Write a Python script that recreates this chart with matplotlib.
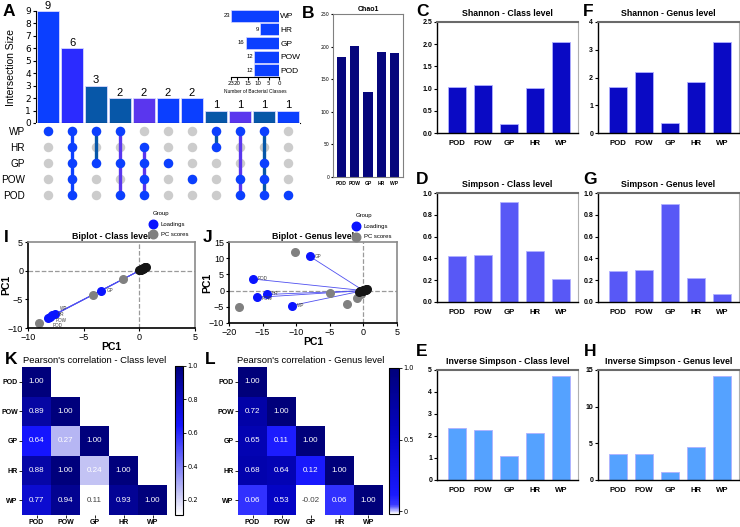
import numpy as np
import matplotlib.pyplot as plt
from matplotlib.colors import LinearSegmentedColormap

W, H = 740, 527

# ---- data ----
set_names = ["WP", "HR", "GP", "POW", "POD"]
set_sizes = [23, 9, 16, 12, 12]
inter_sizes = [9, 6, 3, 2, 2, 2, 2, 1, 1, 1, 1]
inter_sets = [["WP"], ["WP", "HR", "GP", "POW", "POD"], ["WP", "GP"], ["WP", "GP", "POD"],
              ["HR", "GP", "POW", "POD"], ["GP"], ["POW"], ["WP", "HR"],
              ["WP", "POW", "POD"], ["WP", "GP", "POW", "POD"], ["POD"]]

groups = ["POD", "POW", "GP", "HR", "WP"]
chao1 = [184, 201, 130, 192, 190]
shannon_class = [1.03, 1.09, 0.21, 1.01, 2.06]
shannon_genus = [1.67, 2.21, 0.35, 1.85, 3.27]
simpson_class = [0.42, 0.435, 0.92, 0.47, 0.21]
simpson_genus = [0.28, 0.29, 0.90, 0.22, 0.07]
invsimpson_class = [2.38, 2.29, 1.08, 2.12, 4.74]
invsimpson_genus = [3.6, 3.5, 1.1, 4.5, 14.2]

# biplot class level
load_class_x = [-8.2, -8.0, -3.4, -7.8, -7.6]
load_class_y = [-8.3, -8.1, -3.5, -7.8, -7.6]
score_class_x = [-9.0, -4.2, -1.5]
score_class_y = [-9.1, -4.2, -1.4]
# biplot genus level
load_genus_x = [-16.5, -15.9, -8.0, -14.4, -10.6]
load_genus_y = [3.6, -2.1, 10.6, -1.2, -4.6]
score_genus_x = [-18.5, -10.2, -5.0, -2.5, -1.0, -0.3]
score_genus_y = [-5.2, 11.8, -0.6, -4.0, -2.2, -1.2]

corr_class = [[1.00, 0, 0, 0, 0],
              [0.89, 1.00, 0, 0, 0],
              [0.64, 0.27, 1.00, 0, 0],
              [0.88, 1.00, 0.24, 1.00, 0],
              [0.77, 0.94, 0.11, 0.93, 1.00]]
corr_genus = [[1.00, 0, 0, 0, 0],
              [0.72, 1.00, 0, 0, 0],
              [0.65, 0.11, 1.00, 0, 0],
              [0.68, 0.64, 0.12, 1.00, 0],
              [0.06, 0.53, -0.02, 0.06, 1.00]]

ARIAL = ['Liberation Sans', 'DejaVu Sans']


def px(x0, y0, x1, y1):
    return [x0 / W, 1 - y1 / H, (x1 - x0) / W, (y1 - y0) / H]


def letter(x, y, s):
    fig.text(x / W, 1 - y / H, s, fontsize=12.5, fontweight='bold', family=ARIAL, va='center', ha='left')


fig = plt.figure(figsize=(7.4, 5.27), dpi=100)

# ---------------- A : upset ----------------
c_blue = "#0b3fff"
c_all = "#2b2bff"
c_dark = "#0757a8"
c_purp = "#5a36ee"
bar_cols = [c_blue, c_all, c_dark, c_dark, c_purp, c_blue, c_blue, c_dark, c_purp, c_dark, c_blue]
line_cols = [c_blue, c_blue, c_dark, c_purp, c_purp, c_blue, c_blue, c_dark, c_purp, c_dark, c_blue]

axA = fig.add_axes(px(36, 11, 300, 123))
xs = np.arange(len(inter_sizes))
axA.bar(xs, inter_sizes, width=0.92, color=bar_cols, edgecolor='#d8d8ff', lw=0.6)
for x, v in zip(xs, inter_sizes):
    axA.text(x, v + 0.02, str(v), ha='center', va='bottom', fontsize=8, family=ARIAL, clip_on=False)
axA.set_xlim(-0.5, len(inter_sizes) - 0.5)
axA.set_ylim(0, 9)
axA.set_yticks(range(10))
axA.tick_params(axis='y', labelsize=6.5, length=2.5, pad=1)
axA.set_xticks([])
for s in ['top', 'right']:
    axA.spines[s].set_visible(False)
axA.set_ylabel("Intersection Size", fontsize=7.5, family=ARIAL)
axA.yaxis.set_label_coords(-0.075, 0.5)

axM = fig.add_axes(px(36, 123, 300, 203))
for x, members in enumerate(inter_sets):
    rows = [set_names.index(m) for m in members]
    axM.scatter([x] * 5, range(5), s=34, color='#cccccc', zorder=1)
    if len(rows) > 1:
        axM.plot([x, x], [min(rows), max(rows)], color=line_cols[x], lw=2.4, zorder=2)
    axM.scatter([x] * len(rows), rows, s=34, color=c_blue, zorder=3)
axM.set_xlim(-0.5, len(inter_sizes) - 0.5)
axM.set_ylim(4.5, -0.5)
axM.set_yticks(range(5))
axM.set_yticklabels(set_names, fontsize=7.2, family=ARIAL)
axM.tick_params(length=0, pad=8)
axM.set_xticks([])
for s in axM.spines.values():
    s.set_visible(False)

# inset set sizes
axS = fig.add_axes(px(231, 9, 279, 77))
axS.barh(range(5), set_sizes, height=0.88, color=c_blue, edgecolor='#d8d8ff', lw=0.5)
for y, v in enumerate(set_sizes):
    axS.text(v + 0.6, y, str(v), ha='right', va='center', fontsize=4.2, family=ARIAL)
axS.set_xlim(23, 0)
axS.set_ylim(4.5, -0.5)
axS.set_xticks([23, 20, 15, 10, 5, 0])
axS.tick_params(axis='x', labelsize=4, length=2, pad=1)
axS.yaxis.tick_right()
axS.set_yticks(range(5))
axS.set_yticklabels(set_names, fontsize=6, family=ARIAL)
axS.tick_params(axis='y', length=0, pad=1)
for s in ['top', 'left', 'right']:
    axS.spines[s].set_visible(False)
axS.set_xlabel("Number of Bacterial Classes", fontsize=3.5, family=ARIAL, labelpad=2)
letter(3, 12, "A")

# ---------------- B : Chao1 ----------------
axB = fig.add_axes(px(333, 14, 403, 177))
axB.bar(np.arange(5), chao1, width=0.7, color='#06067c')
axB.set_xlim(-0.63, 4.64)
axB.set_ylim(0, 250)
axB.set_yticks(range(0, 251, 50))
axB.set_xticks(np.arange(5))
axB.set_xticklabels(groups, fontsize=3.6, fontweight='bold', family=ARIAL)
axB.tick_params(axis='y', labelsize=3.3, length=1.5, pad=1)
axB.tick_params(axis='x', length=0, pad=3)
for s in axB.spines.values():
    s.set_color('#808080')
    s.set_linewidth(0.8)
axB.set_title("Chao1", fontsize=5, fontweight='bold', family=ARIAL, pad=2)
letter(302, 13, "B")


# ---------------- C-H : alpha diversity ----------------
def alpha_panel(box, title, vals, ylim, yticks, color, ticklabels=None):
    ax = fig.add_axes(px(*box))
    ax.bar(np.arange(5), vals, width=0.68, color=color, edgecolor='#b0b0ff', lw=0.6)
    ax.set_xlim(-0.77, 4.65)
    ax.set_ylim(*ylim)
    ax.set_yticks(yticks)
    if ticklabels is not None:
        ax.set_yticklabels(ticklabels)
    ax.set_xticks(np.arange(5))
    ax.set_xticklabels(groups, fontsize=5.6, fontweight='bold', family=ARIAL)
    ax.tick_params(axis='x', length=0, pad=5)
    ax.tick_params(axis='y', length=2.5, pad=1, labelsize=5)
    for lab in ax.get_yticklabels():
        lab.set_fontweight('bold')
        lab.set_family(ARIAL)
    ax.spines['top'].set_color('#6a6a6a')
    ax.spines['top'].set_linewidth(1.5)
    ax.spines['right'].set_color('#b0b0b0')
    ax.spines['left'].set_linewidth(1.0)
    ax.spines['bottom'].set_linewidth(1.0)
    ax.set_title(title, fontsize=6.3, fontweight='bold', family=ARIAL, pad=4)
    return ax


c_dk = "#0a0ac4"
c_md = "#5858f6"
c_lt = "#55a2ff"
alpha_panel((437, 22, 578, 133), "Shannon - Class level", shannon_class, (0, 2.5),
            [0, 0.5, 1, 1.5, 2, 2.5], c_dk, ["0.0", "0.5", "1.0", "1.5", "2.0", "2.5"])
alpha_panel((598, 22, 739, 133), "Shannon - Genus level", shannon_genus, (0, 4),
            [0, 1, 2, 3, 4], c_dk)
alpha_panel((437, 193, 578, 302), "Simpson - Class level", simpson_class, (0, 1),
            [0, 0.2, 0.4, 0.6, 0.8, 1.0], c_md, ["0.0", "0.2", "0.4", "0.6", "0.8", "1.0"])
alpha_panel((598, 193, 739, 302), "Simpson - Genus level", simpson_genus, (0, 1),
            [0, 0.2, 0.4, 0.6, 0.8, 1.0], c_md, ["0.0", "0.2", "0.4", "0.6", "0.8", "1.0"])
alpha_panel((437, 370, 578, 480), "Inverse Simpson - Class level", invsimpson_class, (0, 5),
            [0, 1, 2, 3, 4, 5], c_lt)
alpha_panel((598, 370, 739, 480), "Inverse Simpson - Genus level", invsimpson_genus, (0, 15),
            [0, 5, 10, 15], c_lt)
letter(416, 12, "C")
letter(583, 12, "F")
letter(416, 180, "D")
letter(583, 180, "G")
letter(416, 352, "E")
letter(584, 352, "H")


# ---------------- I, J : biplots ----------------
def biplot(box, title, lx, ly, sx, sy, lim_x, lim_y, ticks_x, ticks_y, cluster, leg_xy, lab_dy):
    ax = fig.add_axes(px(*box))
    ax.axhline(0, color='#9a9a9a', ls='--', lw=0.9, zorder=0)
    ax.axvline(0, color='#9a9a9a', ls='--', lw=0.9, zorder=0)
    for x, y in zip(lx, ly):
        ax.plot([0, x], [0, y], color='#5050f0', lw=0.6, zorder=1)
    ax.scatter(sx, sy, s=30, color='#808080', zorder=2)
    ax.scatter(cluster[0], cluster[1], s=30, color='#151515', zorder=3)
    ax.scatter(lx, ly, s=30, color='#0a14ff', zorder=4, label='Loadings')
    for x, y, n, dy in zip(lx, ly, groups, lab_dy):
        ax.text(x + 0.03 * (lim_x[1] - lim_x[0]), y + dy, n, fontsize=3.3, color='#404040',
                va='center', family=ARIAL, zorder=5)
    ax.set_xlim(*lim_x)
    ax.set_ylim(*lim_y)
    ax.set_xticks(ticks_x)
    ax.set_yticks(ticks_y)
    ax.tick_params(labelsize=6.5, length=2.5, pad=1)
    for lab in ax.get_xticklabels() + ax.get_yticklabels():
        lab.set_family(ARIAL)
    for s in ax.spines.values():
        s.set_color('#8a8a8a')
        s.set_linewidth(1.2)
    ax.spines['left'].set_color('black')
    ax.spines['bottom'].set_color('black')
    ax.set_xlabel("PC1", fontsize=7.5, fontweight='bold', family=ARIAL, labelpad=0)
    ax.set_ylabel("PC1", fontsize=7.5, fontweight='bold', family=ARIAL)
    ax.yaxis.set_label_coords(-0.1, 0.5)
    ax.set_title(title, fontsize=6.3, fontweight='bold', family=ARIAL, pad=2)
    gx, gy = leg_xy
    fig.text(gx / W, 1 - gy / H, "Group", fontsize=4.3, family=ARIAL, ha='left', va='center')
    lg = fig.add_axes(px(gx - 6, gy + 5, gx + 40, gy + 27))
    lg.set_axis_off()
    lg.set_xlim(0, 1)
    lg.set_ylim(1, 0)
    lg.scatter([0.12], [0.28], s=38, color='#0a14ff', clip_on=False)
    lg.scatter([0.12], [0.75], s=38, color='#808080', clip_on=False)
    lg.text(0.3, 0.28, "Loadings", fontsize=4.3, family=ARIAL, va='center')
    lg.text(0.3, 0.75, "PC scores", fontsize=4.3, family=ARIAL, va='center')
    return ax


cl_c = (np.linspace(0.0, 0.6, 14), np.linspace(0.0, 0.6, 14) + 0.05)
biplot((28, 242, 195, 328), "Biplot - Class level", load_class_x, load_class_y,
       score_class_x, score_class_y, (-10, 5), (-10, 5), [-10, -5, 0, 5], [-10, -5, 0, 5],
       cl_c, (153, 213), [-1.3, -0.6, 0, 0.2, 1.0])
cl_g = (np.linspace(-0.6, 0.5, 14), np.linspace(-0.3, 0.4, 14))
biplot((229, 242, 397, 323), "Biplot - Genus level", load_genus_x, load_genus_y,
       score_genus_x, score_genus_y, (-20, 5), (-10, 15), [-20, -15, -10, -5, 0, 5],
       [-10, -5, 0, 5, 10, 15], cl_g, (356, 215), [0, -0.3, 0, 0.4, 0])
letter(4, 238, "I")
letter(203, 238, "J")


# ---------------- K, L : correlation heatmaps ----------------
def heat(box, cbox, title, data, cmap, vmin, vmax, cticks, ctlabels):
    ax = fig.add_axes(px(*box))
    arr = np.array(data, dtype=float)
    mask = np.triu(np.ones_like(arr, dtype=bool), k=1)
    im = ax.imshow(np.ma.masked_where(mask, arr), cmap=cmap, vmin=vmin, vmax=vmax, aspect='auto')
    for i in range(5):
        for j in range(i + 1):
            v = arr[i, j]
            light = (v - vmin) / (vmax - vmin) < 0.04
            ax.text(j, i, f"{v:.2f}", ha='center', va='center', fontsize=5.8,
                    color='#404040' if light else 'white', family=ARIAL)
    ax.set_xticks(range(5))
    ax.set_yticks(range(5))
    ax.set_xticklabels(groups, fontsize=5, fontweight='bold', family=ARIAL)
    ax.set_yticklabels(groups, fontsize=5, fontweight='bold', family=ARIAL)
    ax.tick_params(length=2, width=0.6, pad=1)
    for s in ax.spines.values():
        s.set_visible(False)
    ax.set_title(title, fontsize=6.8, family=ARIAL, pad=3)
    cax = fig.add_axes(px(*cbox))
    cb = fig.colorbar(im, cax=cax)
    cb.set_ticks(cticks)
    cb.set_ticklabels(ctlabels)
    cb.ax.tick_params(labelsize=4.8, length=2, width=0.6, pad=1)
    cb.outline.set_linewidth(0.8)
    return ax


cmap_k = LinearSegmentedColormap.from_list("k", [(0, "white"), (0.15, "#c2c2f4"),
                                                 (0.6, "#1414ff"), (1, "#00007c")])
cmap_l = LinearSegmentedColormap.from_list("l", [(0, "white"), (0.06, "#3a3aff"), (0.13, "#1a1aff"),
                                                 (0.55, "#0404c4"), (1, "#00007a")])
heat((22, 367, 167, 515), (175, 366, 183, 515), "Pearson's correlation - Class level",
     corr_class, cmap_k, 0.11, 1.0, [0.2, 0.4, 0.6, 0.8, 1.0], ["0.2", "0.4", "0.6", "0.8", "1.0"])
heat((238, 367, 383, 515), (389, 368, 399, 514), "Pearson's correlation - Genus level",
     corr_genus, cmap_l, -0.02, 1.0, [0, 0.5, 1.0], ["0", "0.5", "1.0"])
letter(5, 360, "K")
letter(205, 360, "L")

fig.savefig("out.png", dpi=100)
